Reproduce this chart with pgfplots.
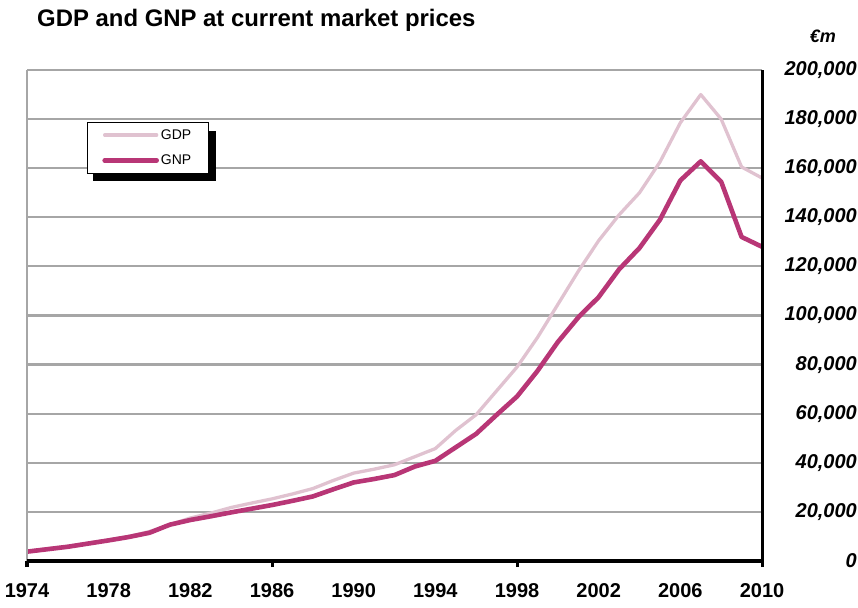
\documentclass[border=0pt]{standalone}
\usepackage{pgfplots}
\pgfplotsset{compat=1.18}
\usepackage{pgfplotstable}
\usepackage{fontspec}
\setmainfont{Liberation Sans}
\definecolor{gdpc}{RGB}{224,194,208}
\definecolor{gnpc}{RGB}{184,54,118}
\definecolor{gridc}{RGB}{166,166,166}

\pgfplotstableread{
year gdp gnp
1974 4.0 3.8
1975 5.0 4.8
1976 6.0 5.8
1977 7.3 7.1
1978 8.6 8.4
1979 10.0 9.8
1980 12.0 11.5
1981 14.8 14.8
1982 17.5 16.7
1983 19.5 18.2
1984 21.8 19.8
1985 23.6 21.3
1986 25.3 22.8
1987 27.3 24.5
1988 29.5 26.3
1989 32.8 29.2
1990 35.8 32.0
1991 37.4 33.4
1992 39.2 35.0
1993 42.5 38.5
1994 45.8 40.8
1995 53.2 46.3
1996 59.6 51.8
1997 69.3 59.5
1998 79.0 67.0
1999 91.0 77.4
2000 104.5 89.2
2001 118.0 99.2
2002 130.5 107.5
2003 141.0 118.8
2004 150.0 127.5
2005 162.5 139.0
2006 178.5 155.0
2007 190.0 162.8
2008 180.0 154.5
2009 160.5 132.0
2010 156.0 128.0
}\data

\begin{document}
\begin{tikzpicture}
\path[use as bounding box] (0,0) rectangle (858pt,607pt);
\node[anchor=base west, inner sep=0pt, font=\fontsize{23.9}{24}\selectfont\bfseries] at (37pt,580pt) {GDP and GNP at current market prices};
\node[anchor=base east, inner sep=0pt, font=\fontsize{18}{18}\selectfont\bfseries\itshape] at (836pt,564pt) {€m};
\begin{axis}[
  at={(27pt,46pt)}, anchor=south west,
  scale only axis, width=735pt, height=491pt,
  xmin=1974, xmax=2010, ymin=0, ymax=200000,
  clip=false,
  axis line style={draw=none},
  xtick={1974,1978,...,2010},
  xticklabels={1974,1978,1982,1986,1990,1994,1998,2002,2006,2010},
  ytick={0,20000,...,200000},
  yticklabels={0,{20,000},{40,000},{60,000},{80,000},{100,000},{120,000},{140,000},{160,000},{180,000},{200,000}},
  major tick length=0pt,
  xtick pos=left,
  ymajorgrids, grid style={gridc, line width=2.2pt},
  yticklabel pos=right,
  scaled y ticks=false,
  yticklabel style={font=\fontsize{20}{20}\selectfont\bfseries\itshape, anchor=east, inner sep=0pt, xshift=95pt},
  xticklabel style={font=\fontsize{20}{20}\selectfont\bfseries, anchor=north, inner sep=0pt, yshift=-22pt},
  extra x ticks={1974,1986,1998,2010},
  extra x tick labels={},
  extra x tick style={major tick length=6pt, tick align=outside, tick style={black, line width=3pt}},
  legend style={at={(rel axis cs:0.0816,0.894)}, anchor=north west, draw=black, line width=0.8pt, fill=white,
    font=\fontsize{14}{14}\selectfont, inner xsep=15pt, inner ysep=5pt, row sep=10pt, cells={anchor=west}},
  legend image code/.code={\draw[#1, line cap=round] (0pt,0pt) -- (52pt,0pt);},
]
\fill[black] (axis cs:1977.23,175150) rectangle (axis cs:1983.26,154790);
\addplot[gdpc, line width=3.3pt, line join=round] table[x=year, y expr=\thisrow{gdp}*1000] {\data};
\addlegendentry{GDP}
\addplot[gnpc, line width=4.6pt, line join=round] table[x=year, y expr=\thisrow{gnp}*1000] {\data};
\addlegendentry{GNP}
\draw[gridc, line width=2pt] (rel axis cs:0,0) -- (rel axis cs:0,1);
\draw[black, line width=3pt] (rel axis cs:1,0) -- (rel axis cs:1,1);
\draw[black, line width=3.5pt] (rel axis cs:0,0) -- (rel axis cs:1,0);
\end{axis}
\end{tikzpicture}
\end{document}
